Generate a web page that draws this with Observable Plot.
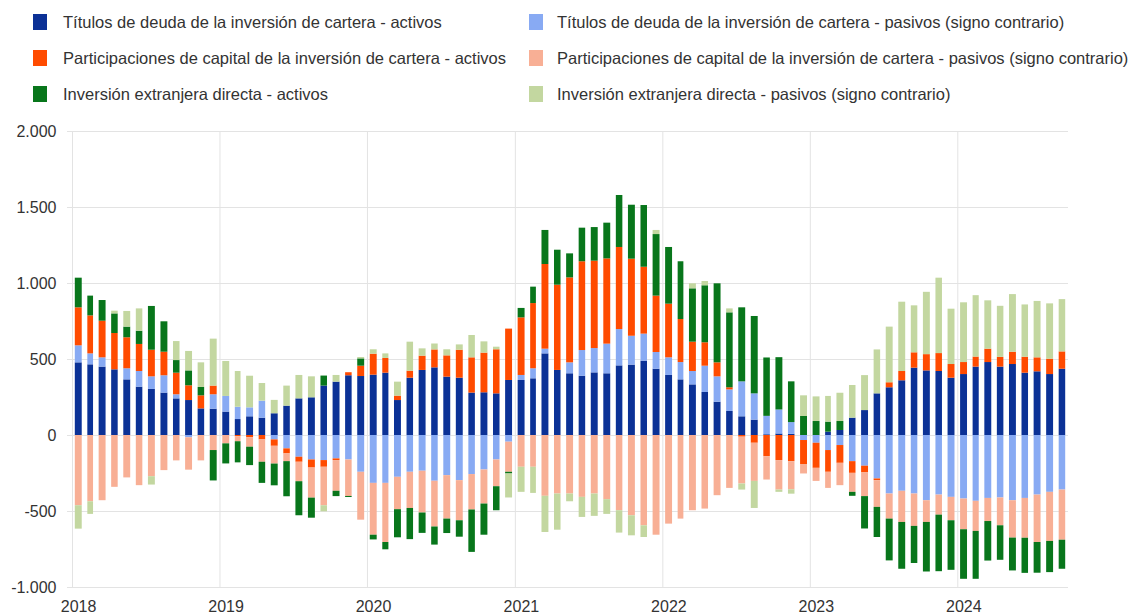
<!DOCTYPE html>
<html>
<head>
<meta charset="utf-8">
<script src="https://cdn.jsdelivr.net/npm/d3@7"></script>
<script src="https://cdn.jsdelivr.net/npm/@observablehq/plot@0.6"></script>
<style>
  html, body { margin: 0; padding: 0; background: #fff; }
  body { width: 1133px; height: 614px; position: relative; overflow: hidden; font-family: "Liberation Sans", Arial, sans-serif; }
  .leg { position: absolute; font-size: 16.5px; color: #333; white-space: nowrap; line-height: 20px; }
  .sw { position: absolute; width: 14px; height: 16px; }
  #chart { position: absolute; left: 0; top: 115px; }
</style>
</head>
<body>
<div id="legend"></div>
<div id="chart"></div>
<script>
// Series names (legend order = stacking order)
const seriesNames = [
  "Títulos de deuda de la inversión de cartera - activos",
  "Títulos de deuda de la inversión de cartera - pasivos (signo contrario)",
  "Participaciones de capital de la inversión de cartera - activos",
  "Participaciones de capital de la inversión de cartera - pasivos (signo contrario)",
  "Inversión extranjera directa - activos",
  "Inversión extranjera directa - pasivos (signo contrario)"
];
const seriesColors = ["#0b3196", "#88aaf3", "#ff4b00", "#f8af95", "#08761b", "#c3d7a0"];

// Monthly data, Jan 2018 – Sep 2024 (EUR bn)
const startYear = 2018, startMonth = 0;
const debtAssets = [
  478, 465, 450, 432, 366, 318, 303, 279, 241, 230, 175, 173,
  154, 105, 123, 114, 143, 193, 241, 248, 325, 351, 393, 388,
  397, 410, 230, 377, 428, 445, 384, 377, 279, 281, 274, 362,
  362, 373, 537, 428, 406, 390, 412, 406, 458, 463, 489, 436,
  395, 366, 333, 283, 219, 158, 123, 101, 5, 10, 8, 0,
  0, 22, 33, 114, 164, 274, 314, 360, 443, 425, 421, 377,
  401, 450, 480, 450, 467, 410, 419, 401, 436
];
const debtLiab = [
  112, 72, 61, 0, 73, 103, 83, 114, 27, -15, 0, 95,
  103, 81, 59, 112, -29, -88, -143, -161, -165, -154, -161, -242,
  -315, -315, -275, -242, -235, -301, -264, -297, -257, -227, -161, -44,
  33, 66, 31, 0, 72, 169, 160, 195, 239, 190, 178, 110,
  116, 114, 88, 173, 167, 142, 230, 173, 121, 158, 77, -33,
  -51, -99, -66, -172, -202, -286, -385, -367, -385, -429, -392, -407,
  -418, -433, -414, -411, -429, -414, -392, -374, -359
];
const equityAssets = [
  250, 250, 241, 239, 204, 178, 175, 155, 142, 97, 86, 57,
  0, -8, -15, -29, -42, -33, -33, -53, -44, -11, 20, 68,
  138, 97, 29, 46, 94, 118, 140, 184, 232, 261, 290, 338,
  379, 429, 557, 561, 559, 584, 575, 561, 540, 507, 440, 371,
  353, 283, 193, 154, 92, 14, -11, -51, -139, -165, -172, -158,
  -165, -143, -117, -77, -44, -11, 33, 61, 101, 107, 118, 90,
  79, 66, 88, 64, 81, 105, 92, 101, 114
];
const equityLiab = [
  -462, -436, -429, -341, -279, -330, -271, -231, -167, -213, -167, -99,
  -55, -33, -62, -147, -117, -51, -128, -198, -253, -202, -240, -315,
  -341, -389, -213, -238, -275, -301, -286, -264, -233, -224, -176, -198,
  -209, -209, -400, -385, -385, -407, -385, -422, -495, -528, -594, -656,
  -583, -550, -495, -484, -396, -348, -308, -251, -154, -194, -185, -62,
  -86, -106, -147, -125, -156, -176, -165, -205, -213, -143, -132, -154,
  -202, -198, -152, -183, -246, -262, -312, -323, -330
];
const fdiAssets = [
  195, 130, 136, 129, 70, 87, 288, 200, 83, 98, 55, -200,
  -132, -139, -121, -139, -143, -231, -224, -132, 66, -35, -7, 48,
  -31, -48, -185, -205, -134, -119, -95, -108, -279, -205, -158, -11,
  62, 108, 224, 230, 158, 221, 221, 235, 342, 355, 406, 405,
  373, 380, 351, 375, 520, 493, 487, 509, 384, 344, 268, 125,
  92, 66, 59, -26, -213, -198, -275, -308, -244, -326, -372, -326,
  -326, -315, -260, -227, -216, -231, -202, -205, -191
];
const fdiLiab = [
  -154, -83, 0, 18, 103, 147, -55, 0, 125, 128, 162, 309,
  230, 235, 208, 116, 88, 132, 154, 138, -40, 44, 0, 9,
  29, 30, 92, 191, 48, 39, 40, 35, 147, 74, 17, -158,
  -165, -172, -238, -238, -51, -132, -147, -97, -147, -132, -77, 27,
  0, 0, 33, 28, 0, 26, -40, -178, 0, -15, -29, 136,
  162, 169, 186, 215, 230, 289, 366, 456, 309, 410, 496, 364,
  393, 404, 318, 336, 379, 344, 371, 364, 344
];
const yTickValues = [-1000, -500, 0, 500, 1000, 1500, 2000];
const yearLabels = [2018, 2019, 2020, 2021, 2022, 2023, 2024];

const allSeries = [debtAssets, debtLiab, equityAssets, equityLiab, fdiAssets, fdiLiab];
const rows = [];
for (let i = 0; i < debtAssets.length; i++) {
  const date = new Date(Date.UTC(startYear, startMonth + i, 1));
  allSeries.forEach((arr, s) => rows.push({date, series: seriesNames[s], value: arr[i]}));
}

// Legend
const legend = document.getElementById("legend");
const legPos = [
  [33, 63, 22], [529, 557, 22],
  [33, 63, 58], [529, 557, 58],
  [33, 63, 94], [529, 557, 94]
];
[0, 1, 2, 3, 4, 5].forEach((s, k) => {
  const [sx, tx, cy] = legPos[k];
  const sw = document.createElement("div");
  sw.className = "sw";
  sw.style.left = sx + "px"; sw.style.top = (cy - 8) + "px";
  sw.style.background = seriesColors[s];
  legend.appendChild(sw);
  const t = document.createElement("div");
  t.className = "leg";
  t.style.left = tx + "px"; t.style.top = (cy - 10) + "px";
  t.textContent = seriesNames[s];
  legend.appendChild(t);
});

const fmtNum = d => (d < 0 ? "-" : "") + d3.format(",")(Math.abs(d)).replace(/,/g, ".");
const xStart = new Date(Date.UTC(2018, 0, 1));
const xEnd = new Date(Date.UTC(2024, 9, 1));
const yearStarts = yearLabels.map(y => new Date(Date.UTC(y, 0, 1)));
const yearMids = yearLabels.map(y => new Date(Date.UTC(y, 0, 16)));

const chart = Plot.plot({
  width: 1133,
  height: 499,
  marginTop: 16,
  marginBottom: 27,
  marginLeft: 72,
  marginRight: 65,
  style: {fontFamily: "'Liberation Sans', Arial, sans-serif", fontSize: "16px", color: "#333", background: "#fff"},
  x: {type: "utc", domain: [xStart, xEnd]},
  y: {domain: [-1000, 2000]},
  color: {domain: seriesNames, range: seriesColors},
  marks: [
    Plot.gridY({ticks: yTickValues, stroke: "#e3e3e3", strokeOpacity: 1}),
    Plot.gridX({ticks: yearStarts, stroke: "#e3e3e3", strokeOpacity: 1}),
    Plot.rectY(rows, {x: "date", interval: "month", y: "value", fill: "series", insetLeft: 2.8, insetRight: 2.8}),
    Plot.axisY({ticks: yTickValues, tickSize: 5, tickPadding: 11, stroke: "#e3e3e3", fill: "#333", tickFormat: fmtNum, label: null}),
    Plot.axisX({ticks: yearMids, tickSize: 0, tickPadding: 13, fill: "#333", tickFormat: d => String(d.getUTCFullYear()), label: null})
  ]
});
document.getElementById("chart").appendChild(chart);
</script>
</body>
</html>
